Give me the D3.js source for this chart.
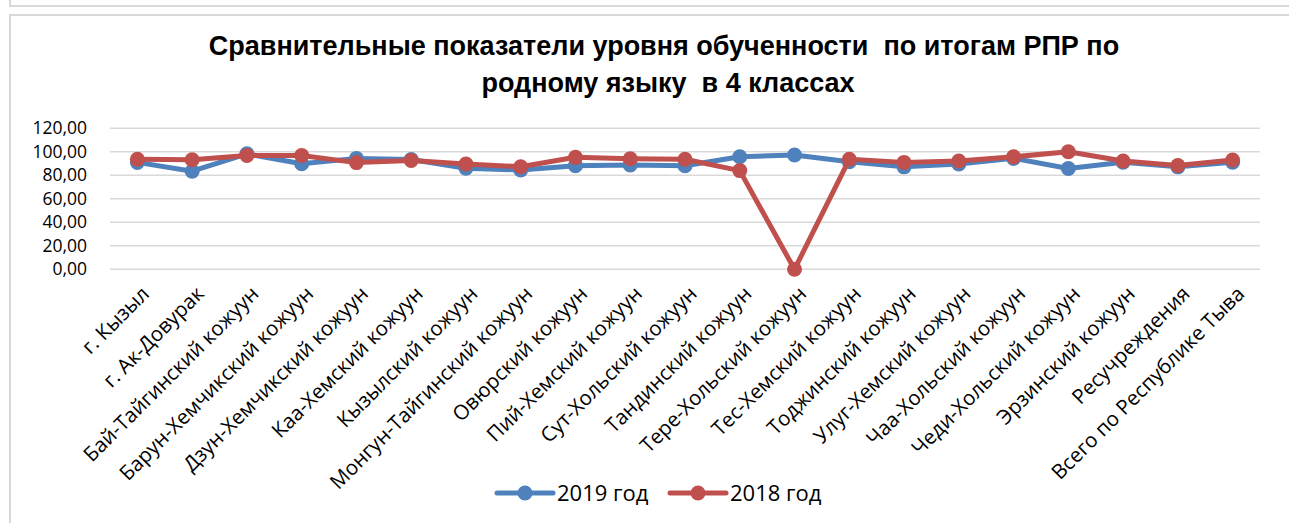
<!DOCTYPE html>
<html>
<head>
<meta charset="utf-8">
<script src="https://cdn.jsdelivr.net/npm/d3@7"></script>
<style>
  body { margin: 0; background: #fff; }
  svg { display: block; }
</style>
</head>
<body>
<div id="chart"></div>
<script>
// data
const categories = [
  "г. Кызыл", "г. Ак-Довурак", "Бай-Тайгинский кожуун", "Барун-Хемчикский кожуун",
  "Дзун-Хемчикский кожуун", "Каа-Хемский кожуун", "Кызылский кожуун",
  "Монгун-Тайгинский кожуун", "Овюрский кожуун", "Пий-Хемский кожуун",
  "Сут-Хольский кожуун", "Тандинский кожуун", "Тере-Хольский кожуун",
  "Тес-Хемский кожуун", "Тоджинский кожуун", "Улуг-Хемский кожуун",
  "Чаа-Хольский кожуун", "Чеди-Хольский кожуун", "Эрзинский кожуун",
  "Ресучреждения", "Всего по Республике Тыва"
];
const values2019 = [91.0, 83.5, 98.3, 89.8, 94.4, 93.5, 86.0, 84.5, 88.2, 88.8, 88.2,
  95.8, 97.3, 91.6, 87.2, 89.7, 94.4, 85.8, 91.1, 87.2, 91.1];
const values2018 = [93.6, 93.2, 96.9, 96.9, 90.8, 92.6, 89.6, 87.3, 95.3, 94.1, 93.6,
  84.0, 0, 93.6, 91.0, 92.2, 95.7, 100, 92.1, 88.4, 93.0];
const yTicks = [0, 20, 40, 60, 80, 100, 120];
const seriesNames = ["2019 год", "2018 год"];
const seriesColors = ["#4F81BD", "#C0504D"];

const W = 1289, H = 523;
const svg = d3.select("#chart").append("svg")
  .attr("width", W).attr("height", H);

// frame of the neighbouring chart above and of this one
svg.append("path")
  .attr("d", "M10,0 V6 H" + W)
  .attr("fill", "none").attr("stroke", "#d9d9d9").attr("stroke-width", 2);
svg.append("rect")
  .attr("x", 10).attr("y", 15).attr("width", W + 20).attr("height", H)
  .attr("fill", "#fff").attr("stroke", "#d9d9d9").attr("stroke-width", 2);

// title
const title = svg.append("text")
  .attr("text-anchor", "middle")
  .attr("font-family", "'Liberation Sans', Arial, sans-serif")
  .attr("font-weight", "bold")
  .attr("font-size", 27)
  .style("white-space", "pre")
  .attr("fill", "#000");
title.append("tspan").attr("x", 664).attr("y", 55)
  .text("Сравнительные показатели уровня обученности  по итогам РПР по");
title.append("tspan").attr("x", 668).attr("y", 92)
  .text("родному языку  в 4 классах");

const x = d3.scaleBand().domain(categories).range([110, 1260]);
const y = d3.scaleLinear().domain([0, 120]).range([269.3, 128.3]);
const fmt = v => d3.format(".2f")(v).replace(".", ",");

// gridlines
svg.append("g")
  .selectAll("line").data(yTicks).join("line")
  .attr("x1", 110).attr("x2", 1260)
  .attr("y1", d => y(d)).attr("y2", d => y(d))
  .attr("stroke", "#d9d9d9").attr("stroke-width", 1.5);

// y axis
const yAxis = svg.append("g")
  .attr("transform", "translate(91,0)")
  .call(d3.axisLeft(y).tickValues(yTicks).tickFormat(fmt).tickSize(0).tickPadding(4));
yAxis.select(".domain").remove();
yAxis.selectAll("text")
  .attr("font-family", "'Open Sans', sans-serif")
  .attr("font-size", 17.5)
  .attr("fill", "#000");

// x axis labels
const xAxis = svg.append("g")
  .attr("transform", "translate(0,282)")
  .call(d3.axisBottom(x).tickSize(0).tickPadding(0));
xAxis.select(".domain").remove();
xAxis.selectAll("text")
  .attr("font-family", "'Open Sans', sans-serif")
  .attr("font-size", 20.5)
  .attr("fill", "#000")
  .attr("text-anchor", "end")
  .attr("dy", "0.35em")
  .attr("transform", "translate(8,8) rotate(-45)")
  .attr("x", 0).attr("y", 0);

// series
const cx = d => x(d) + x.bandwidth() / 2;
const line = d3.line().x(d => cx(d.c)).y(d => y(d.v));
[values2019, values2018].forEach((vals, i) => {
  const pts = categories.map((c, j) => ({ c: c, v: vals[j] }));
  const g = svg.append("g");
  g.append("path").datum(pts)
    .attr("d", line)
    .attr("fill", "none")
    .attr("stroke", seriesColors[i])
    .attr("stroke-width", 5)
    .attr("stroke-linejoin", "round");
  g.selectAll("circle").data(pts).join("circle")
    .attr("cx", d => cx(d.c)).attr("cy", d => y(d.v))
    .attr("r", 7.5)
    .attr("fill", seriesColors[i]);
});

// legend
const legendX = [497, 670];
seriesNames.forEach((name, i) => {
  const lg = svg.append("g").attr("transform", "translate(" + legendX[i] + ",493)");
  lg.append("line").attr("x1", 0).attr("x2", 56)
    .attr("stroke", seriesColors[i]).attr("stroke-width", 5).attr("stroke-linecap", "round");
  lg.append("circle").attr("cx", 28).attr("r", 7.5).attr("fill", seriesColors[i]);
  lg.append("text").attr("x", 60).attr("dy", "0.35em")
    .attr("font-family", "'Open Sans', sans-serif")
    .attr("font-size", 22)
    .attr("fill", "#000")
    .text(name);
});
</script>
</body>
</html>
